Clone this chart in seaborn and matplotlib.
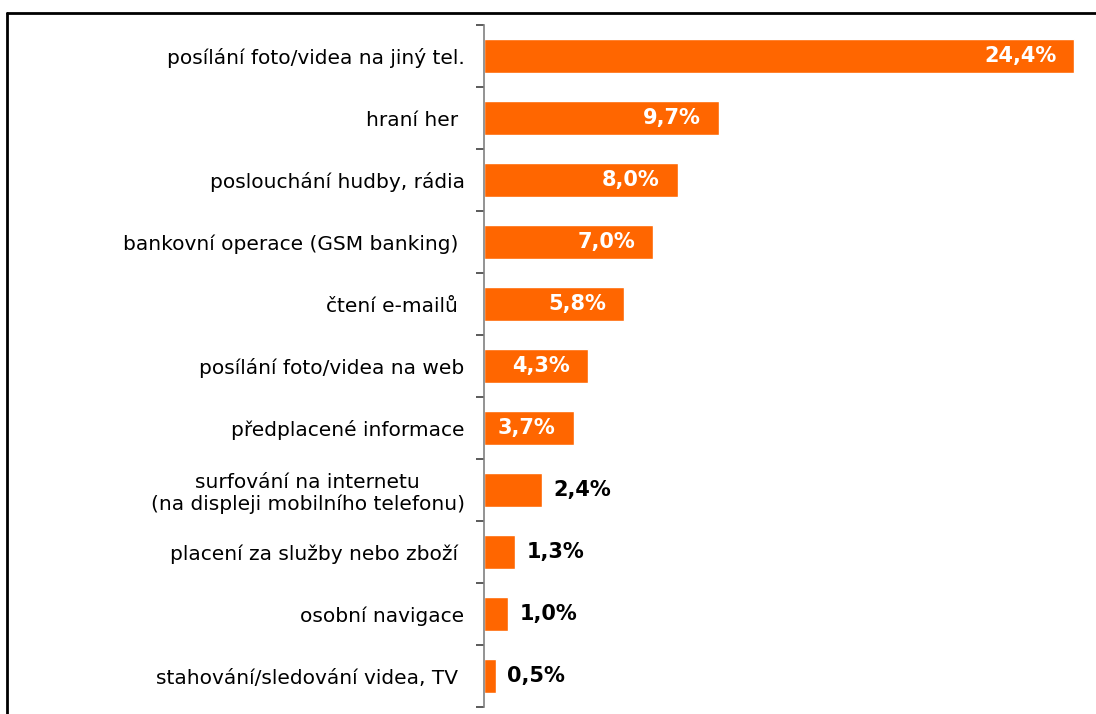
import matplotlib
matplotlib.use("Agg")
import matplotlib.pyplot as plt
import seaborn as sns
import pandas as pd
from matplotlib.lines import Line2D

categories = [
    "posílání foto/videa na jiný tel.",
    "hraní her ",
    "poslouchání hudby, rádia",
    "bankovní operace (GSM banking) ",
    "čtení e-mailů ",
    "posílání foto/videa na web",
    "předplacené informace",
    "surfování na internetu\n(na displeji mobilního telefonu)",
    "placení za služby nebo zboží ",
    "osobní navigace",
    "stahování/sledování videa, TV ",
]
values = [24.4, 9.7, 8.0, 7.0, 5.8, 4.3, 3.7, 2.4, 1.3, 1.0, 0.5]
labels = ["24,4%", "9,7%", "8,0%", "7,0%", "5,8%", "4,3%", "3,7%", "2,4%", "1,3%", "1,0%", "0,5%"]

df = pd.DataFrame({"cat": categories, "val": values})

sns.set_style("white")
plt.rcParams["font.family"] = ["DejaVu Sans"]

fig = plt.figure(figsize=(10.96, 7.14), dpi=100)
ax = fig.add_axes([484 / 1096, 1 - 707 / 714, 1 - 484 / 1096, (707 - 25) / 714])

sns.barplot(data=df, x="val", y="cat", orient="h", color="#FF6600",
            saturation=1, width=0.56, ax=ax)

ax.set_xlim(0, 25.3)
ax.set_ylim(len(categories) - 0.5, -0.5)
ax.set_xlabel("")
ax.set_ylabel("")
ax.set_xticks([])
for s in ["top", "right", "bottom"]:
    ax.spines[s].set_visible(False)
ax.spines["left"].set_color("#808080")
ax.spines["left"].set_linewidth(1.2)

# tick marks sit between the categories
ax.set_yticks([i - 0.5 for i in range(len(categories) + 1)], minor=True)
ax.tick_params(axis="y", which="minor", length=6, width=1.2, color="#404040", direction="out", left=True)
ax.tick_params(axis="y", which="major", length=0, pad=14, labelsize=14.5, labelcolor="black")
for t in ax.get_yticklabels():
    t.set_multialignment("center")

for i, (v, lab) in enumerate(zip(values, labels)):
    if v >= 3.5:
        ax.annotate(lab, (v, i), xytext=(-13, 0), textcoords="offset points",
                    ha="right", va="center", color="white", fontsize=15, fontweight="bold")
    else:
        ax.annotate(lab, (v, i), xytext=(8, 0), textcoords="offset points",
                    ha="left", va="center", color="black", fontsize=15, fontweight="bold")

# outer frame
fig.add_artist(Line2D([7 / 1096, 1], [1 - 13 / 714] * 2, color="black", lw=2, transform=fig.transFigure))
fig.add_artist(Line2D([7 / 1096] * 2, [0, 1 - 13 / 714], color="black", lw=2, transform=fig.transFigure))

fig.savefig("out.png", dpi=100)
